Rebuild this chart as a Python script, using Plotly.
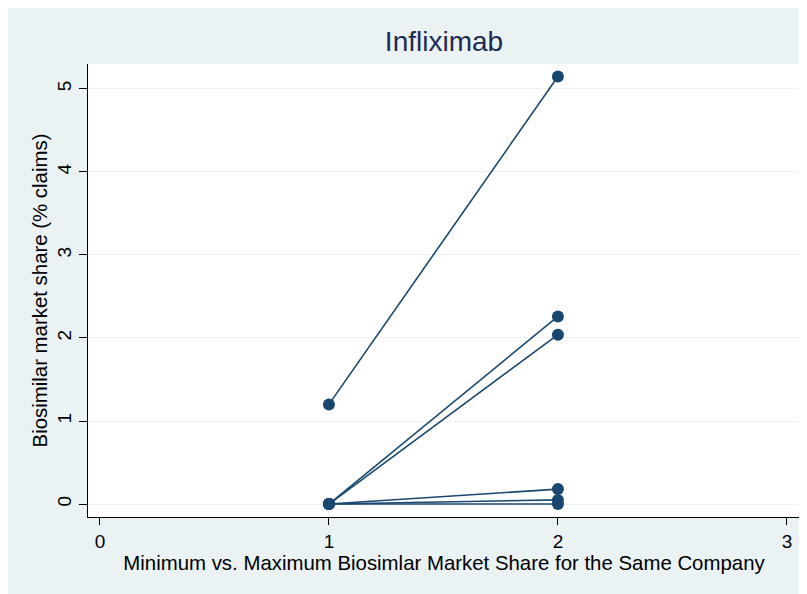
import plotly.graph_objects as go

# Data: each company has a minimum (x=1) and maximum (x=2) biosimilar share
positions = [1, 2]
min_share = [1.20, 0.00, 0.00, 0.00, 0.00, 0.00]
max_share = [5.15, 2.26, 2.04, 0.18, 0.05, 0.00]
x_ticks = [0, 1, 2, 3]
y_ticks = [0, 1, 2, 3, 4, 5]

navy = "#1A476F"
bg = "#EAF2F3"

fig = go.Figure()
for lo, hi in zip(min_share, max_share):
    fig.add_trace(go.Scatter(
        x=positions, y=[lo, hi], mode="lines+markers",
        line=dict(color=navy, width=1.6),
        marker=dict(color=navy, size=12),
        showlegend=False, hoverinfo="skip"))

font = "Liberation Sans, Arial, sans-serif"
fig.update_layout(
    width=800, height=586,
    margin=dict(l=80, r=8, t=56, b=77, autoexpand=False),
    paper_bgcolor=bg, plot_bgcolor="white",
    font=dict(family=font, size=19, color="black"),
    title=dict(text="Infliximab", x=0.5, xref="paper", xanchor="center",
               y=1, yref="paper", yanchor="bottom", pad=dict(b=13),
               font=dict(size=28, color="#1C2C54"), automargin=False),
    showlegend=False,
)
fig.update_xaxes(
    range=[-0.052, 3.057], tickvals=x_ticks, ticktext=[str(v) for v in x_ticks],
    showgrid=False, zeroline=False, showline=True, linecolor="black", linewidth=1,
    ticks="outside", ticklen=7, tickcolor="black", automargin=False,
    title=dict(text="Minimum vs. Maximum Biosimlar Market Share for the Same Company",
               standoff=0, font=dict(size=20.4)),
)
fig.update_yaxes(
    range=[-0.156, 5.30], tickvals=y_ticks, ticktext=[str(v) for v in y_ticks],
    tickangle=-90, automargin=False,
    showgrid=True, gridcolor=bg, gridwidth=1.3, zeroline=False,
    showline=True, linecolor="black", linewidth=1,
    ticks="outside", ticklen=8, tickcolor="black",
    title=dict(text="Biosimilar market share (% claims)", standoff=1, font=dict(size=20.4)),
)
fig.write_html("out.html")
